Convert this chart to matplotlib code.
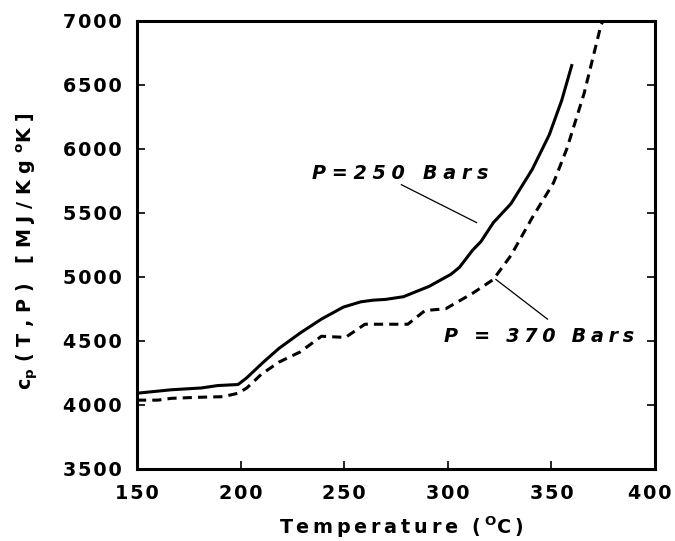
import matplotlib
matplotlib.use("Agg")
import matplotlib.pyplot as plt
import matplotlib.transforms as mtrans

plt.rcParams['font.family'] = ['DejaVu Sans']
plt.rcParams['font.weight'] = 'bold'
plt.rcParams['mathtext.fontset'] = 'custom'
plt.rcParams['mathtext.rm'] = 'DejaVu Sans:bold'
plt.rcParams['mathtext.bf'] = 'DejaVu Sans:bold'
plt.rcParams['mathtext.it'] = 'DejaVu Sans:bold:italic'
plt.rcParams['mathtext.default'] = 'rm'

# Data: temperature (deg C) and specific heat
t_250 = [150, 166.6, 181, 189, 198.8, 203, 211, 218.5, 228.8, 239, 249.6, 258, 264,
         270, 278.6, 291, 301.5, 305.6, 312, 316, 322, 330.5, 340.8, 349, 355, 360]
cp_250 = [4092, 4119, 4133, 4152, 4160, 4213, 4335, 4442, 4563, 4671, 4765, 4806, 4819,
          4825, 4846, 4927, 5021, 5075, 5210, 5277, 5425, 5573, 5842, 6112, 6381, 6663]

t_370 = [150, 160, 166.6, 179, 191.5, 198.8, 203, 210, 218.5, 228.8, 239, 250.6, 260,
         280.7, 289, 299, 312, 322, 330.5, 340.8, 351, 357.5, 365.8, 374, 376]
cp_370 = [4038, 4038, 4052, 4060, 4065, 4092, 4133, 4240, 4335, 4415, 4537, 4528, 4631,
          4631, 4738, 4752, 4873, 4981, 5169, 5465, 5735, 6004, 6435, 6973, 7027]

x_ticks = [150, 200, 250, 300, 350, 400]
y_ticks = [3500, 4000, 4500, 5000, 5500, 6000, 6500, 7000]

FS = 13.8
W, H = 675, 541
fig = plt.figure(figsize=(W / 100, H / 100), dpi=100)
fig.canvas.draw()
renderer = fig.canvas.get_renderer()

CANDS = ['', '\u200a', '\u2006', '\u2009', '\u2009\u200a', '\u2005', ' ', '\u2004',
         '\u2005\u200a', '\u2004\u200a', '\u2004\u2006', '\u2004\u2009']


def build(tokens, sep):
    out = ''
    for i, tok in enumerate(tokens):
        if i > 0:
            out += sep
        out += tok
    return out


def fit_sep(tokens, target, fontsize, style='normal'):
    best = None
    for sep in CANDS:
        s = build(tokens, sep)
        t = fig.text(0, 0, s, fontsize=fontsize, fontweight='bold', style=style)
        w = t.get_window_extent(renderer).width
        t.remove()
        if best is None or abs(w - target) < best[0]:
            best = (abs(w - target), sep)
    return best[1]


ax = fig.add_axes([137 / W, 1 - 469 / H, (655 - 137) / W, (469 - 21) / H])

ax.plot(t_250, cp_250, color='black', lw=2.2, solid_capstyle='butt')
ax.plot(t_370, cp_370, color='black', lw=2.2, linestyle=(0, (3, 2)))

ax.set_xlim(150, 400)
ax.set_ylim(3500, 7000)
ax.set_xticks(x_ticks)
ax.set_yticks(y_ticks)
xsep = fit_sep(list('400'), 42, FS)
ysep = fit_sep(list('7000'), 60, FS)
ax.set_xticklabels([xsep.join(str(v)) for v in x_ticks], fontsize=FS, fontweight='bold')
ax.set_yticklabels([ysep.join(str(v)) for v in y_ticks], fontsize=FS, fontweight='bold')

for s in ax.spines.values():
    s.set_linewidth(2.2)

ax.tick_params(axis='x', direction='in', length=6, width=1.2, pad=11, top=False)
ax.tick_params(axis='y', direction='in', length=6, width=1.2, pad=11, right=True)

# keep the last x tick label inside the canvas (as in the reference)
last = ax.xaxis.get_major_ticks()[-1].label1
last.set_transform(last.get_transform()
                   + mtrans.ScaledTranslation(-5 / 100, 0, fig.dpi_scale_trans))

# y label
y_tokens = ['c$_\\mathregular{p}$', '(', 'T', ',', 'P', ')', ' ', '[', 'M', 'J', '/',
            'K', 'g', '$^\\mathregular{o}$K', ']']
ylabel = build(y_tokens, fit_sep(y_tokens, 277, FS))
fig.text(27 / W, 1 - 251 / H, ylabel, rotation=90, fontsize=FS, fontweight='bold',
         ha='center', va='center')

# x label
x_tokens = list('Temperature') + [' ', '(', '$^\\mathregular{O}$C', ')']
xlabel = build(x_tokens, fit_sep(x_tokens, 250, FS))
fig.text(401 / W, 1 - 534 / H, xlabel, fontsize=FS, fontweight='bold',
         ha='center', va='baseline')

# annotations
t1 = list('P=250') + [' ', 'B', 'a', 'r', 's']
a1 = build(t1, fit_sep(t1, 175, FS, 'italic'))
ax.text(234.6, 5810, a1, fontsize=FS, fontweight='bold', style='italic',
        ha='left', va='center')
ax.plot([277.6, 313.9], [5721, 5425], color='black', lw=0.9)

t2 = ['P', ' ', '=', ' ', '3', '7', '0', ' ', 'B', 'a', 'r', 's']
a2 = build(t2, fit_sep(t2, 188, FS, 'italic'))
ax.text(298.3, 4537, a2, fontsize=FS, fontweight='bold', style='italic',
        ha='left', va='center')
ax.plot([323.2, 348.1], [4981, 4671], color='black', lw=0.9)

fig.savefig('out.png', dpi=100)
